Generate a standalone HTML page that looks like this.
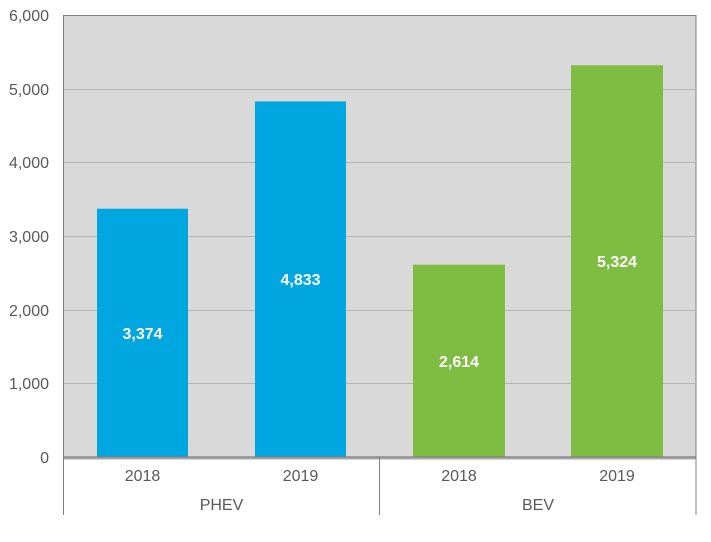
<!DOCTYPE html>
<html><head><meta charset="utf-8"><style>body{margin:0;background:#fff}</style></head><body>
<svg width="711" height="537" xmlns="http://www.w3.org/2000/svg" font-family="Liberation Sans, sans-serif">
<rect x="63.5" y="15.5" width="632.5" height="441.5" fill="#d9d9d9" stroke="#808080" stroke-width="1"/>
<g stroke="#b3b3b3" stroke-width="1">
<line x1="64" x2="696" y1="89.5" y2="89.5"/>
<line x1="64" x2="696" y1="162.5" y2="162.5"/>
<line x1="64" x2="696" y1="236.5" y2="236.5"/>
<line x1="64" x2="696" y1="310.5" y2="310.5"/>
<line x1="64" x2="696" y1="383.5" y2="383.5"/>
</g>
<rect x="97" y="208.7" width="91" height="248.3" fill="#00a6df"/>
<rect x="255" y="101.4" width="91" height="355.6" fill="#00a6df"/>
<rect x="413" y="264.7" width="92" height="192.3" fill="#7fbd42"/>
<rect x="571" y="65.3" width="92" height="391.7" fill="#7fbd42"/>
<line x1="64" x2="696" y1="458.5" y2="458.5" stroke="#aaa" stroke-width="2"/>
<line x1="63" x2="696" y1="457" y2="457" stroke="#808080" stroke-width="1.2"/>
<g stroke="#808080" stroke-width="1">
<line x1="63.5" x2="63.5" y1="457" y2="515"/>
<line x1="379.5" x2="379.5" y1="457" y2="515"/>
<line x1="696" x2="696" y1="457" y2="515"/>
</g>
<g fill="#fff" font-weight="bold" font-size="16" text-anchor="middle">
<text x="142.5" y="339">3,374</text>
<text x="300.5" y="285">4,833</text>
<text x="459" y="367">2,614</text>
<text x="617" y="267">5,324</text>
</g>
<g fill="#595959" font-size="16" text-anchor="end">
<text x="49" y="21">6,000</text>
<text x="49" y="95">5,000</text>
<text x="49" y="168">4,000</text>
<text x="49" y="242">3,000</text>
<text x="49" y="316">2,000</text>
<text x="49" y="389">1,000</text>
<text x="49" y="463">0</text>
</g>
<g fill="#595959" font-size="16" text-anchor="middle">
<text x="142.5" y="481">2018</text>
<text x="300.5" y="481">2019</text>
<text x="459" y="481">2018</text>
<text x="617" y="481">2019</text>
<text x="221.5" y="510">PHEV</text>
<text x="538" y="510">BEV</text>
</g>
</svg>
</body></html>
